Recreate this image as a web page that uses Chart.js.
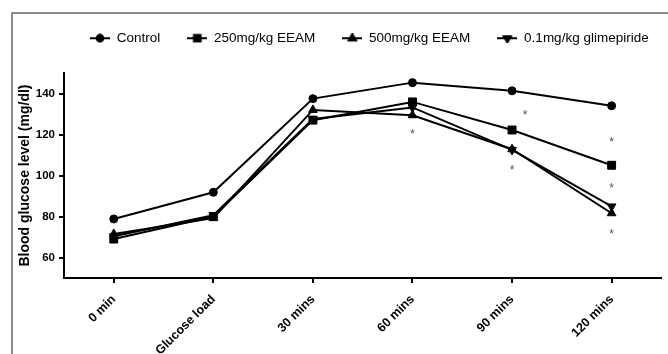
<!DOCTYPE html>
<html>
<head>
<meta charset="utf-8">
<script src="https://cdn.jsdelivr.net/npm/chart.js@4"></script>
<style>
  html, body { margin: 0; padding: 0; background: #fff; }
</style>
</head>
<body>
<canvas id="glucoseChart" width="668" height="354"></canvas>
<script>
// Data
const timeLabels = ['0 min', 'Glucose load', '30 mins', '60 mins', '90 mins', '120 mins'];
const seriesNames = ['Control', '250mg/kg EEAM', '500mg/kg EEAM', '0.1mg/kg glimepiride'];
const controlValues = [78.8, 91.8, 137.5, 145.3, 141.3, 134.0];
const eeam250Values = [69.0, 80.0, 127.0, 135.9, 122.2, 105.0];
const eeam500Values = [71.5, 79.2, 132.0, 129.4, 112.8, 81.6];
const glimepirideValues = [70.4, 80.6, 127.6, 133.2, 112.5, 84.9];
const yTicks = [60, 80, 100, 120, 140];
// significance asterisks (category position, value)
const starX = [3, 4.13, 4, 5, 5, 5];
const starY = [121.8, 131.0, 104.2, 117.6, 95.4, 72.7];

const SANS = "'Liberation Sans', Arial, sans-serif";

const markerStyles = [
    { pointStyle: 'circle', radius: 4, rotation: 0 },
    { pointStyle: 'rect', radius: 5.6, rotation: 0 },
    { pointStyle: 'triangle', radius: 5, rotation: 0 },
    { pointStyle: 'triangle', radius: 5, rotation: 180 }
];

// small line + marker icons for the legend
function makeLegendIcon(style) {
    const c = document.createElement('canvas');
    c.width = 20;
    c.height = 10;
    const ctx = c.getContext('2d');
    ctx.strokeStyle = '#000';
    ctx.fillStyle = '#000';
    ctx.lineWidth = 2;
    ctx.beginPath();
    ctx.moveTo(0, 5);
    ctx.lineTo(20, 5);
    ctx.stroke();
    Chart.helpers.drawPoint(ctx, {
        pointStyle: style.pointStyle,
        radius: style.radius * 0.85,
        rotation: style.rotation,
        borderWidth: 1
    }, 10, 5);
    return c;
}

const legendIcons = markerStyles.map(makeLegendIcon);

const seriesData = [controlValues, eeam250Values, eeam500Values, glimepirideValues];

const datasets = seriesData.map((values, i) => ({
    label: seriesNames[i],
    data: values,
    borderColor: '#000',
    backgroundColor: '#000',
    borderWidth: 2,
    tension: 0,
    pointStyle: markerStyles[i].pointStyle,
    pointRadius: markerStyles[i].radius,
    pointRotation: markerStyles[i].rotation,
    pointBackgroundColor: '#000',
    pointBorderColor: '#000',
    pointBorderWidth: 1
}));

const framePlugin = {
    id: 'frame',
    beforeDraw(chart) {
        const ctx = chart.ctx;
        ctx.save();
        ctx.strokeStyle = '#8c8c8c';
        ctx.lineWidth = 2;
        ctx.strokeRect(12, 13, 700, 400);
        ctx.restore();
    }
};

// nudge the legend into the spot it has in the figure
const legendShift = {
    id: 'legendShift',
    afterLayout(chart) {
        const lg = chart.legend;
        lg.left += 50;
        lg.right += 50;
        lg.top -= 18;
        lg.bottom -= 18;
    }
};

const starPlugin = {
    id: 'stars',
    afterDatasetsDraw(chart) {
        const { ctx, scales: { x, y } } = chart;
        ctx.save();
        ctx.fillStyle = '#555';
        ctx.font = '12px ' + SANS;
        ctx.textAlign = 'center';
        ctx.textBaseline = 'alphabetic';
        starX.forEach((sx, i) => {
            ctx.fillText('*', x.getPixelForValue(sx), y.getPixelForValue(starY[i]) + 6.8);
        });
        ctx.restore();
    }
};

new Chart(document.getElementById('glucoseChart'), {
    type: 'line',
    data: { labels: timeLabels, datasets },
    options: {
        responsive: false,
        animation: false,
        layout: { padding: { left: 13, right: 4, top: 22.5, bottom: 0 } },
        plugins: {
            tooltip: { enabled: false },
            legend: {
                position: 'top',
                align: 'start',
                labels: {
                    usePointStyle: true,
                    pointStyleWidth: 20,
                    padding: 27,
                    color: '#000',
                    font: { family: SANS, size: 13.5 },
                    generateLabels: chart => chart.data.datasets.map((ds, i) => ({
                        text: ds.label,
                        pointStyle: legendIcons[i],
                        rotation: 0,
                        fillStyle: '#000',
                        strokeStyle: '#000',
                        lineWidth: 0,
                        hidden: false,
                        fontColor: '#000',
                        datasetIndex: i
                    }))
                }
            }
        },
        scales: {
            x: {
                offset: true,
                afterFit: s => { s.height = 76; },
                border: { color: '#000', width: 2 },
                grid: { drawOnChartArea: false, tickLength: 5, color: '#000', lineWidth: 2 },
                ticks: {
                    color: '#000',
                    autoSkip: false,
                    minRotation: 45,
                    maxRotation: 45,
                    padding: 9,
                    font: { family: SANS, size: 12.5, weight: 'bold' }
                }
            },
            y: {
                min: 50,
                max: 150,
                afterBuildTicks: s => { s.ticks = yTicks.map(v => ({ value: v })); },
                afterFit: s => { s.width = 51; },
                border: { color: '#000', width: 2 },
                grid: { drawOnChartArea: false, tickLength: 5, color: '#000', lineWidth: 2 },
                ticks: {
                    color: '#000',
                    padding: 4,
                    font: { family: SANS, size: 11.5, weight: 'bold' }
                },
                title: {
                    display: true,
                    text: 'Blood glucose level (mg/dl)',
                    color: '#000',
                    padding: { top: 4, bottom: 0 },
                    font: { family: SANS, size: 14, weight: 'bold' }
                }
            }
        }
    },
    plugins: [framePlugin, legendShift, starPlugin]
});
</script>
</body>
</html>
